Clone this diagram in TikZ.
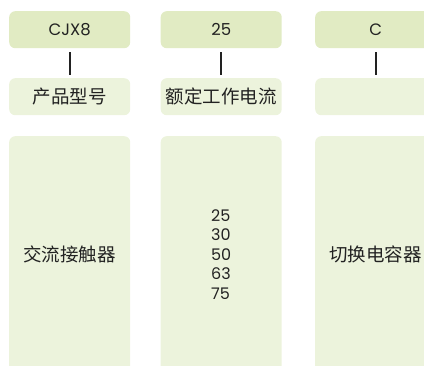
\documentclass[tikz,border=0pt]{standalone}
\usepackage{fontspec}
\setmainfont{Poppins}
\newfontfamily\cjk{Noto Sans CJK SC}
\definecolor{topgreen}{HTML}{E1EBC3}
\definecolor{lowgreen}{HTML}{ECF3DC}
\definecolor{ink}{HTML}{222222}
\begin{document}
\begin{tikzpicture}[x=1pt,y=-1pt,
  codebox/.style={fill=topgreen,rounded corners=6pt,minimum width=121pt,minimum height=37pt,inner sep=0pt,anchor=north west,font=\fontsize{16.5}{18}\selectfont,text=ink},
  namebox/.style={fill=lowgreen,rounded corners=6pt,minimum width=121pt,minimum height=37pt,inner sep=0pt,anchor=north west,font=\cjk\fontsize{18.5}{20}\selectfont,text=ink},
  descbox/.style={fill=lowgreen,rounded corners=6pt,minimum width=121pt,minimum height=236pt,inner sep=0pt,anchor=north west,text=ink},
  link/.style={draw=ink,line width=1.6pt}]
\clip (0,0) rectangle (424,365);
\node[codebox] (c1) at (9,11) {CJX8};
\node[codebox] (c2) at (160.5,11) {25};
\node[codebox] (c3) at (315,11) {C};
\node[namebox] (n1) at (9,78) {产品型号};
\node[namebox] (n2) at (160.5,78) {额定工作电流};
\node[namebox] (n3) at (315,78) {};
\node[descbox,font=\cjk\fontsize{18.5}{20}\selectfont] (d1) at (9,136) {交流接触器};
\node[descbox,font=\fontsize{16}{19.5}\selectfont,align=left] (d2) at (160.5,136) {25\\30\\50\\63\\75};
\node[descbox,font=\cjk\fontsize{18.5}{20}\selectfont] (d3) at (315,136) {切换电容器};
\draw[link] ([yshift=-4pt]c1.south) -- ([yshift=3pt]n1.north);
\draw[link] ([yshift=-4pt]c2.south) -- ([yshift=3pt]n2.north);
\draw[link] ([yshift=-4pt]c3.south) -- ([yshift=3pt]n3.north);
\end{tikzpicture}
\end{document}
